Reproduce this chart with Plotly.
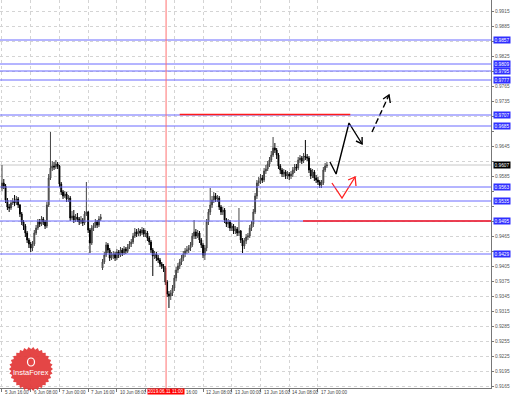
import math
import plotly.graph_objects as go

# ---------------- data (hourly bars, 5 Jun 16:00 -> 17 Jun) ----------------
first_open = 0.9561
monday_open = 0.9401      # open of first bar after the weekend gap
gap_bar = 56

close = [
0.9571,0.9565,0.9537,0.9523,0.9521,0.9531,0.9535,0.9531,0.9539,0.9527,
0.9509,0.9493,0.9485,0.9471,0.9457,0.9449,0.9441,0.9449,0.9471,0.9481,
0.9493,0.9489,0.9499,0.9493,0.9485,0.9527,0.9581,0.9601,0.9605,0.9603,
0.9609,0.9605,0.9569,0.9553,0.9545,0.9549,0.9539,0.9541,0.9501,0.9505,
0.9497,0.9503,0.9499,0.9493,0.9497,0.9491,0.9509,0.9513,0.9477,0.9451,
0.9481,0.9485,0.9493,0.9487,0.9499,0.9503,0.9413,0.9427,0.9447,0.9437,
0.9421,0.9425,0.9429,0.9421,0.9433,0.9427,0.9437,0.9431,0.9439,0.9435,
0.9443,0.9449,0.9453,0.9465,0.9473,0.9469,0.9475,0.9471,0.9477,0.9469,
0.9471,0.9461,0.9453,0.9437,0.9425,0.9429,0.9421,0.9417,0.9409,0.9405,
0.9401,0.9373,0.9349,0.9345,0.9351,0.9361,0.9381,0.9397,0.9405,0.9413,
0.9421,0.9429,0.9435,0.9437,0.9441,0.9447,0.9465,0.9473,0.9465,0.9471,
0.9457,0.9447,0.9427,0.9441,0.9493,0.9513,0.9527,0.9537,0.9545,0.9539,
0.9541,0.9523,0.9513,0.9517,0.9497,0.9489,0.9493,0.9481,0.9485,0.9475,
0.9479,0.9471,0.9475,0.9457,0.9445,0.9455,0.9463,0.9465,0.9481,0.9489,
0.9513,0.9545,0.9571,0.9575,0.9581,0.9577,0.9595,0.9599,0.9609,0.9617,
0.9627,0.9641,0.9637,0.9627,0.9605,0.9597,0.9589,0.9593,0.9585,0.9589,
0.9585,0.9589,0.9597,0.9603,0.9601,0.9617,0.9621,0.9615,0.9625,0.9623,
0.9621,0.9597,0.9585,0.9593,0.9581,0.9577,0.9573,0.9567,0.9571,0.9597,
0.9605,0.9607]

high = [
0.9607,0.9579,0.9569,0.9541,0.9529,0.9537,0.9541,0.9547,0.9545,0.9543,
0.9529,0.9513,0.9497,0.9489,0.9475,0.9461,0.9453,0.9455,0.9477,0.9487,
0.9499,0.9499,0.9505,0.9503,0.9497,0.9533,0.9589,0.9673,0.9615,0.9613,
0.9617,0.9613,0.9607,0.9573,0.9557,0.9555,0.9553,0.9547,0.9545,0.9515,
0.9517,0.9509,0.9511,0.9503,0.9505,0.9501,0.9515,0.9573,0.9515,0.9481,
0.9487,0.9491,0.9499,0.9497,0.9505,0.9509,0.9419,0.9433,0.9453,0.9451,
0.9441,0.9433,0.9435,0.9433,0.9439,0.9437,0.9443,0.9441,0.9445,0.9443,
0.9449,0.9455,0.9459,0.9471,0.9481,0.9479,0.9481,0.9479,0.9483,0.9481,
0.9477,0.9475,0.9465,0.9457,0.9441,0.9435,0.9433,0.9427,0.9421,0.9413,
0.9409,0.9405,0.9377,0.9355,0.9357,0.9367,0.9387,0.9403,0.9411,0.9419,
0.9427,0.9435,0.9441,0.9445,0.9447,0.9453,0.9471,0.9497,0.9479,0.9477,
0.9475,0.9461,0.9451,0.9447,0.9499,0.9519,0.9561,0.9545,0.9553,0.9551,
0.9547,0.9545,0.9527,0.9523,0.9521,0.9501,0.9499,0.9497,0.9491,0.9489,
0.9485,0.9483,0.9521,0.9477,0.9461,0.9461,0.9469,0.9471,0.9487,0.9495,
0.9519,0.9551,0.9577,0.9583,0.9589,0.9587,0.9601,0.9607,0.9615,0.9623,
0.9635,0.9663,0.9651,0.9641,0.9631,0.9609,0.9601,0.9599,0.9597,0.9595,
0.9593,0.9595,0.9603,0.9609,0.9609,0.9623,0.9627,0.9625,0.9631,0.9657,
0.9629,0.9625,0.9601,0.9599,0.9597,0.9587,0.9583,0.9577,0.9577,0.9603,
0.9611,0.9613]

low = [
0.9555,0.9559,0.9531,0.9517,0.9513,0.9517,0.9527,0.9525,0.9527,0.9521,
0.9503,0.9487,0.9477,0.9463,0.9451,0.9441,0.9433,0.9435,0.9445,0.9467,
0.9477,0.9483,0.9485,0.9487,0.9479,0.9481,0.9523,0.9577,0.9595,0.9597,
0.9599,0.9599,0.9563,0.9547,0.9539,0.9541,0.9533,0.9533,0.9495,0.9497,
0.9491,0.9493,0.9493,0.9487,0.9489,0.9485,0.9487,0.9505,0.9471,0.9431,
0.9447,0.9475,0.9481,0.9481,0.9483,0.9495,0.9397,0.9409,0.9423,0.9431,
0.9415,0.9417,0.9419,0.9415,0.9417,0.9421,0.9423,0.9425,0.9427,0.9429,
0.9431,0.9439,0.9443,0.9449,0.9461,0.9463,0.9465,0.9465,0.9467,0.9463,
0.9463,0.9455,0.9447,0.9431,0.9385,0.9419,0.9415,0.9411,0.9403,0.9399,
0.9393,0.9367,0.9343,0.9321,0.9337,0.9345,0.9355,0.9375,0.9391,0.9399,
0.9407,0.9415,0.9423,0.9429,0.9431,0.9435,0.9443,0.9459,0.9459,0.9461,
0.9451,0.9441,0.9421,0.9417,0.9435,0.9487,0.9507,0.9521,0.9531,0.9533,
0.9533,0.9517,0.9507,0.9507,0.9491,0.9483,0.9481,0.9475,0.9475,0.9469,
0.9469,0.9465,0.9465,0.9451,0.9431,0.9439,0.9449,0.9457,0.9461,0.9475,
0.9483,0.9509,0.9539,0.9565,0.9569,0.9571,0.9573,0.9589,0.9595,0.9603,
0.9613,0.9623,0.9631,0.9619,0.9599,0.9589,0.9583,0.9583,0.9579,0.9579,
0.9577,0.9579,0.9583,0.9591,0.9595,0.9597,0.9611,0.9609,0.9611,0.9617,
0.9615,0.9591,0.9579,0.9581,0.9575,0.9571,0.9567,0.9561,0.9561,0.9567,
0.9593,0.9601]

# time axis labels (every 16 bars); "11 Jun 00:00" lies under the cursor box,
# and only the "16:00" part of "11 Jun 16:00" shows beside it
time_tick_bars = [0, 16, 32, 48, 64, 80, 96, 112, 128, 144, 160, 176]
time_tick_text = ["5 Jun 16:00", "6 Jun 08:00", "7 Jun 00:00", "7 Jun 16:00",
                  "10 Jun 08:00", "", "16:00", "12 Jun 08:00",
                  "13 Jun 00:00", "13 Jun 16:00", "14 Jun 08:00", "17 Jun 00:00"]
cursor_bar = 91.4
cursor_text = "2019.06.11 11:00"

# price axis labels
price_ticks = [0.9165, 0.9195, 0.9225, 0.9255, 0.9285, 0.9315, 0.9345, 0.9375,
               0.9405, 0.9435, 0.9465, 0.9495, 0.9525, 0.9555, 0.9585, 0.9615,
               0.9645, 0.9675, 0.9705, 0.9735, 0.9765, 0.9795, 0.9825, 0.9855,
               0.9885, 0.9915]

# horizontal levels
blue_levels = [0.9857, 0.9809, 0.9795, 0.9777, 0.9707, 0.9685, 0.9563, 0.9535, 0.9495, 0.9429]
red_level_hi = 0.9708
red_hi_bars = [99, 194]
red_level_lo = 0.9495
red_lo_start = 167.7
last_price = 0.9607

# forecast drawings (bar, price)
black_path_bar = [182.7, 186.1, 193.3, 200.6]
black_path_px = [0.9613, 0.9589, 0.9691, 0.9649]
black_head_bar = [197.2, 200.6, 200.6]
black_head_px = [0.9655, 0.9649, 0.9663]
dash_path_bar = [206.1, 215.6]
dash_path_px = [0.9673, 0.9747]
dash_head_bar = [212.3, 215.6, 216.3]
dash_head_px = [0.9739, 0.9747, 0.9731]
red_path_bar = [183.8, 189.4, 196.7]
red_path_px = [0.9571, 0.9541, 0.9583]
red_head_bar = [192.8, 196.7, 197.2]
red_head_px = [0.9577, 0.9583, 0.9565]

# ---------------- figure ----------------
bars = list(range(len(close)))
opens = [first_open] + close[:-1]
opens[gap_bar] = monday_open

W, H = 519, 398
ML, MR, MT, MB = 0, 28, 0, 10
PW, PH = W - ML - MR, H - MT - MB
FONT = "Liberation Sans"

fig = go.Figure()
fig.add_trace(go.Candlestick(
    x=bars, open=opens, high=high, low=low, close=close,
    increasing=dict(line=dict(color="#444444", width=1), fillcolor="#8a8a8a"),
    decreasing=dict(line=dict(color="#000000", width=1), fillcolor="#000000"),
    whiskerwidth=0, showlegend=False, hoverinfo="skip"))

def add_line(xs, ys, color, dash=None, width=1.4):
    fig.add_trace(go.Scatter(x=xs, y=ys, mode="lines",
                             line=dict(color=color, width=width, dash=dash),
                             showlegend=False, hoverinfo="skip"))

add_line(black_path_bar, black_path_px, "black")
add_line(black_head_bar, black_head_px, "black")
add_line(dash_path_bar, dash_path_px, "black", dash="6px,3px")
add_line(dash_head_bar, dash_head_px, "black")
add_line(red_path_bar, red_path_px, "#ff2020", width=1.3)
add_line(red_head_bar, red_head_px, "#ff2020", width=1.3)

shapes = []
shapes.append(dict(type="line", xref="paper", x0=0, x1=1, yref="y", y0=last_price, y1=last_price,
                   line=dict(color="#c8c8c8", width=1), layer="below"))
for lv in blue_levels:
    shapes.append(dict(type="line", xref="paper", x0=0, x1=1, yref="y", y0=lv, y1=lv,
                       line=dict(color="#6a6aff", width=1)))
shapes.append(dict(type="line", xref="x", x0=red_hi_bars[0], x1=red_hi_bars[1], yref="y",
                   y0=red_level_hi, y1=red_level_hi, line=dict(color="#ff1a1a", width=1.6)))
shapes.append(dict(type="line", xref="x", x0=red_lo_start, x1=400, yref="y",
                   y0=red_level_lo, y1=red_level_lo, line=dict(color="#ff1a1a", width=1.6)))
shapes.append(dict(type="line", xref="x", x0=cursor_bar, x1=cursor_bar, yref="paper", y0=0, y1=1,
                   line=dict(color="#ff7070", width=1)))

# logo (serrated red badge)
cx, cy, r_out, r_in, teeth = 31, 369, 22, 19.8, 30
pts = []
for k in range(teeth * 2):
    ang = math.pi * k / teeth
    r = r_out if k % 2 == 0 else r_in
    pts.append(((cx + r * math.cos(ang)) / PW, 1 - (cy + r * math.sin(ang)) / PH))
path = "M " + " L ".join(f"{a:.5f},{b:.5f}" for a, b in pts) + " Z"
shapes.append(dict(type="path", xref="paper", yref="paper", path=path,
                   fillcolor="rgba(226,56,56,0.93)", line=dict(width=0), layer="above"))
shapes.append(dict(type="circle", xref="paper", yref="paper",
                   x0=(cx - 3.5) / PW, x1=(cx + 3.5) / PW, y0=1 - (cy - 3) / PH, y1=1 - (cy - 11) / PH,
                   line=dict(color="white", width=1.2), layer="above"))

annotations = []
for b, t in zip(time_tick_bars, time_tick_text):
    if not t:
        continue
    shift = 1 if t != "16:00" else 10
    annotations.append(dict(x=b, xref="x", y=0, yref="paper", yanchor="top", xanchor="left",
                            text=t, showarrow=False, yshift=0, xshift=shift,
                            font=dict(size=4.5, color="#444", family=FONT)))
annotations.append(dict(x=cursor_bar, xref="x", y=0, yref="paper", yanchor="top", xanchor="center",
                        text=cursor_text, showarrow=False, yshift=0, bgcolor="#ff0000",
                        borderpad=0, font=dict(size=4.6, color="white", family=FONT)))
for lv in blue_levels + [last_price]:
    annotations.append(dict(x=1, xref="paper", y=lv, yref="y", xanchor="left", yanchor="middle",
                            text=f"{lv:.4f}", showarrow=False, xshift=2,
                            bgcolor="#000000" if lv == last_price else "#2f2fff",
                            borderpad=0.5, font=dict(size=4.8, color="white", family=FONT)))
annotations.append(dict(x=cx / PW, xref="paper", y=1 - (cy + 3.5) / PH, yref="paper",
                        xanchor="center", yanchor="middle",
                        text="InstaForex", showarrow=False,
                        font=dict(size=7.5, color="white", family=FONT)))

# regular price labels that sit under a highlighted label are hidden
marked = blue_levels + [last_price]
tick_text = ["" if any(abs(v - m) < 0.0011 for m in marked) else f"{v:.4f}" for v in price_ticks]

fig.update_layout(
    width=W, height=H, margin=dict(l=ML, r=MR, t=MT, b=MB),
    paper_bgcolor="white", plot_bgcolor="white",
    shapes=shapes, annotations=annotations, showlegend=False,
    xaxis=dict(range=[-1.11, 272.4], tickvals=time_tick_bars, showticklabels=False,
               showgrid=True, gridcolor="#d4d4d4", griddash="dot", gridwidth=1,
               ticks="outside", ticklen=3, tickcolor="#777", showline=True,
               linecolor="#777", linewidth=1, zeroline=False,
               rangeslider=dict(visible=False), fixedrange=True),
    yaxis=dict(range=[0.9161, 0.9937], side="right", tickvals=price_ticks,
               ticktext=tick_text,
               tickfont=dict(size=4.8, color="#555", family=FONT),
               showgrid=True, gridcolor="#d4d4d4", griddash="dot", gridwidth=1,
               ticks="outside", ticklen=2, tickcolor="#777", showline=True,
               linecolor="#777", linewidth=1, zeroline=False, fixedrange=True),
)

fig.write_html("out.html")
